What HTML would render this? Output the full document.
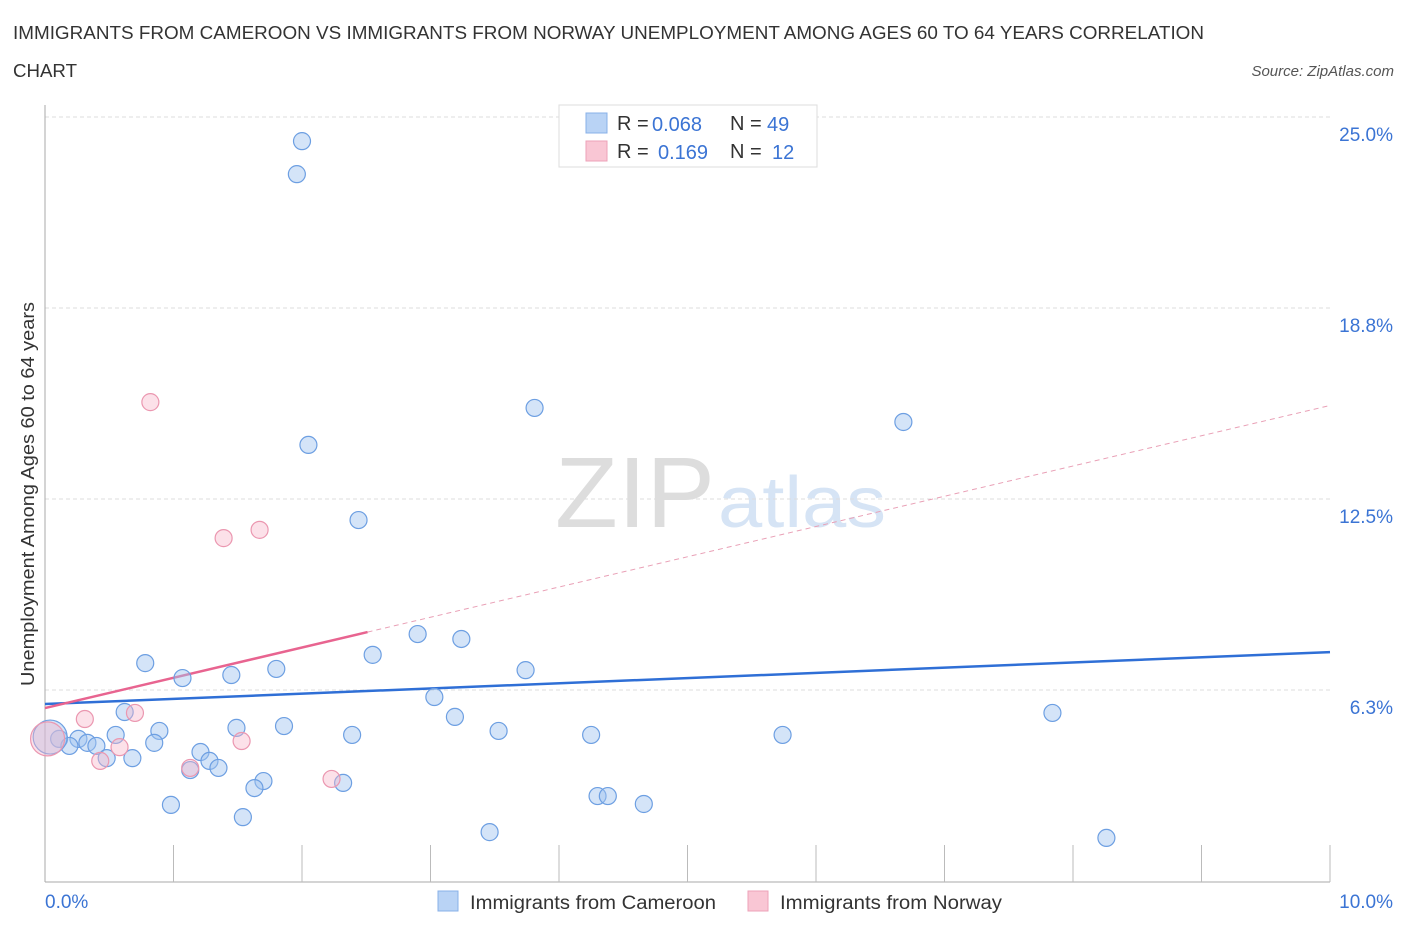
<!DOCTYPE html>
<html><head><meta charset="utf-8"><style>
body{margin:0;background:#fff;font-family:"Liberation Sans",sans-serif;}
svg text{font-family:"Liberation Sans",sans-serif;}
</style></head><body>
<svg id="chart" width="1406" height="930" xmlns="http://www.w3.org/2000/svg">
<text x="13" y="39" font-size="18" fill="#333" textLength="1191" lengthAdjust="spacingAndGlyphs">IMMIGRANTS FROM CAMEROON VS IMMIGRANTS FROM NORWAY UNEMPLOYMENT AMONG AGES 60 TO 64 YEARS CORRELATION</text>
<text x="13" y="77" font-size="18" fill="#333" textLength="64" lengthAdjust="spacingAndGlyphs">CHART</text>
<text x="1394" y="76" font-size="15" fill="#555" text-anchor="end" font-style="italic">Source: ZipAtlas.com</text>
<text transform="translate(34,494) rotate(-90)" font-size="18" fill="#333" text-anchor="middle" textLength="384" lengthAdjust="spacingAndGlyphs">Unemployment Among Ages 60 to 64 years</text>
<text x="555" y="527" font-size="100" fill="#ddd" font-family="Liberation Serif,serif" textLength="160" lengthAdjust="spacingAndGlyphs">ZIP</text>
<text x="718" y="527" font-size="72" fill="#d6e4f5" textLength="168" lengthAdjust="spacingAndGlyphs">atlas</text>
<g id="grid"></g><g id="axes"></g><g id="lines"></g><g id="points"></g>
<g font-size="20">
<rect x="559" y="105" width="258" height="62" fill="#fff" stroke="#ddd"/>
<rect x="586" y="113" width="21" height="20" fill="#b9d3f5" stroke="#88b0e8"/>
<text x="617" y="130" fill="#333">R =</text><text x="652" y="131" fill="#3b74d4">0.068</text>
<text x="730" y="130" fill="#333">N =</text><text x="767" y="131" fill="#3b74d4">49</text>
<rect x="586" y="141" width="21" height="20" fill="#f9c6d4" stroke="#eda2b8"/>
<text x="617" y="158" fill="#333">R =</text><text x="658" y="159" fill="#3b74d4">0.169</text>
<text x="730" y="158" fill="#333">N =</text><text x="772" y="159" fill="#3b74d4">12</text>
</g>
<g>
<rect x="438" y="891" width="20" height="20" fill="#b9d3f5" stroke="#88b0e8"/>
<text x="470" y="909" font-size="19" fill="#333" textLength="246" lengthAdjust="spacingAndGlyphs">Immigrants from Cameroon</text>
<rect x="748" y="891" width="20" height="20" fill="#f9c6d4" stroke="#eda2b8"/>
<text x="780" y="909" font-size="19" fill="#333" textLength="222" lengthAdjust="spacingAndGlyphs">Immigrants from Norway</text>
</g>
</svg>
<script>
const yTicks=[6.25,12.5,18.75,25];
const yTickLabels=["6.3%","12.5%","18.8%","25.0%"];
const xTickLabels=["0.0%","10.0%"];
const blueX=[2.00,1.96,2.05,3.81,6.68,2.44,2.90,3.24,2.55,0.78,1.80,3.74,1.07,1.45,3.03,0.62,7.84,3.19,1.49,1.86,0.89,0.55,2.39,3.53,4.25,5.74,0.26,0.11,0.33,0.40,0.19,0.85,1.21,0.68,0.48,1.28,1.35,1.13,1.70,1.63,2.32,0.98,1.54,4.30,4.38,4.66,3.46,8.26,0.04];
const blueY=[24.21,23.13,14.27,15.48,15.02,11.81,8.08,7.92,7.40,7.13,6.94,6.90,6.64,6.74,6.02,5.53,5.50,5.37,5.01,5.07,4.91,4.78,4.78,4.91,4.78,4.78,4.65,4.65,4.52,4.42,4.42,4.52,4.22,4.02,4.02,3.93,3.70,3.63,3.27,3.04,3.21,2.49,2.09,2.78,2.78,2.52,1.60,1.41,4.71];
const pinkX=[0.82,1.39,1.67,0.31,0.70,0.58,1.53,0.43,1.13,2.23,0.02];
const pinkY=[15.67,11.22,11.49,5.30,5.50,4.38,4.58,3.93,3.70,3.34,4.65];
const blueTrend=[5.79,7.49];
const pinkTrend=[5.66,15.56];
const pinkSolidEnd=2.51;
const X=v=>45+v*128.5, Y=v=>881-v*30.56;
const NS="http://www.w3.org/2000/svg";
function mk(parent,tag,attrs){const e=document.createElementNS(NS,tag);for(const k in attrs)e.setAttribute(k,attrs[k]);document.getElementById(parent).appendChild(e);return e;}
yTicks.forEach((t,i)=>{
 const g=mk('grid','line',{x1:45,x2:1330,y1:Y(t),y2:Y(t),stroke:'#ddd','stroke-dasharray':'4,3'});
 
 
 const l=mk('grid','text',{x:1393,y:Y(t)+24,'font-size':19,fill:'#3b74d4','text-anchor':'end'});
 l.textContent=yTickLabels[i];
 
 
});
let ax=mk('axes','line',{x1:45,x2:45,y1:105,y2:882,stroke:'#aaa'});


ax=mk('axes','line',{x1:45,x2:1330,y1:882,y2:882,stroke:'#aaa'});


for(let i=1;i<=10;i++){const t=mk('axes','line',{x1:X(i),x2:X(i),y1:845,y2:882,stroke:'#bbb'});
 
 }
[[0,'start',45],[10,'end',1393]].forEach((d,i)=>{const t=mk('axes','text',{x:d[2],y:908,'font-size':19,fill:'#3b74d4','text-anchor':d[1]});t.textContent=xTickLabels[i];
 
 });
let tl=mk('lines','line',{x1:X(0),y1:Y(blueTrend[0]),x2:X(10),y2:Y(blueTrend[1]),stroke:'#2f6fd6','stroke-width':2.5});


const ps=(pinkTrend[1]-pinkTrend[0])/10;
tl=mk('lines','line',{x1:X(0),y1:Y(pinkTrend[0]),x2:X(pinkSolidEnd),y2:Y(pinkTrend[0]+ps*pinkSolidEnd),stroke:'#e86490','stroke-width':2.5});


tl=mk('lines','line',{x1:X(pinkSolidEnd),y1:Y(pinkTrend[0]+ps*pinkSolidEnd),x2:X(10),y2:Y(pinkTrend[1]),stroke:'#e9a0b6','stroke-width':1,'stroke-dasharray':'5,4'});


blueX.forEach((x,i)=>{const c=mk('points','circle',{cx:X(x),cy:Y(blueY[i]),r:i==48?17:8.5,fill:'rgba(160,196,240,0.45)',stroke:'#6d9fe2','stroke-width':1.2});
 
 });
pinkX.forEach((x,i)=>{const c=mk('points','circle',{cx:X(x),cy:Y(pinkY[i]),r:i==10?17:8.5,fill:'rgba(248,180,200,0.4)',stroke:'#eb97b0','stroke-width':1.2});
 
 });
</script>
</body></html>
